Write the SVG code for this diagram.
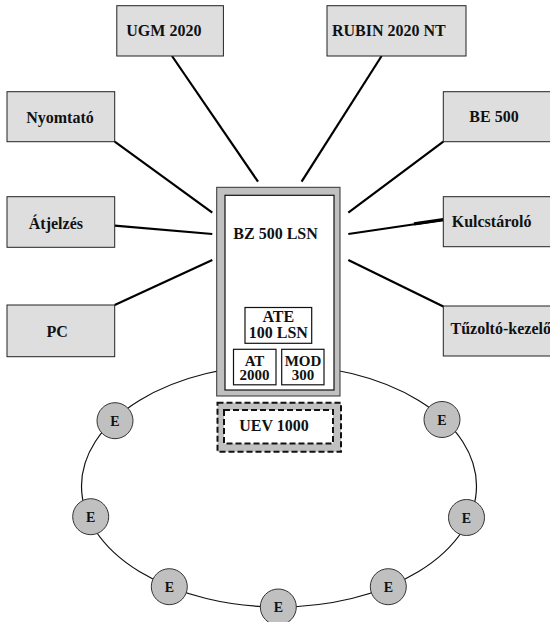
<svg xmlns="http://www.w3.org/2000/svg" width="550" height="622" viewBox="0 0 550 622">
<style>
.box{fill:#dedede;stroke:#222;stroke-width:1}
.t{font-family:"Liberation Serif","Times New Roman",serif;font-weight:bold;font-size:16px;fill:#111}
.ts{font-size:15px}
.te{font-family:"Liberation Serif","Times New Roman",serif;font-weight:bold;font-size:14px;fill:#111;text-anchor:middle}
.c{text-anchor:middle}
.con line{stroke:#000;stroke-width:2.2;stroke-linecap:butt}
.ecirc{fill:#c0c0c0;stroke:#333;stroke-width:1}
.sub{fill:#fff;stroke:#111;stroke-width:1.2}
</style>
<rect width="550" height="622" fill="#fff"/>

<g id="connectors" class="con">
  <line x1="172" y1="56" x2="258" y2="181.7"/>
  <line x1="381.6" y1="56" x2="301.6" y2="181.7"/>
  <line x1="114.7" y1="141.7" x2="212.3" y2="212.7"/>
  <line x1="443.3" y1="141.7" x2="348.3" y2="212.7"/>
  <line x1="114.7" y1="225.7" x2="212.3" y2="234"/>
  <line x1="443.3" y1="220" x2="348.3" y2="234"/>
  <line x1="414" y1="223.9" x2="443.3" y2="219.6" style="stroke-width:3.2"/>
  <line x1="114.7" y1="305" x2="212.3" y2="260"/>
  <line x1="443.3" y1="306.5" x2="348.3" y2="260"/>
</g>

<g id="ring">
  <ellipse cx="279" cy="486" rx="197.5" ry="121" fill="none" stroke="#111" stroke-width="1.2"/>
</g>

<g id="ugm2020">
  <rect class="box" x="116.8" y="5.7" width="106.6" height="50.3"/>
  <text class="t" x="126.3" y="36">UGM 2020</text>
</g>
<g id="rubin2020nt">
  <rect class="box" x="327" y="5.7" width="139" height="50.3"/>
  <text class="t" x="332" y="36">RUBIN 2020 NT</text>
</g>
<g id="nyomtato">
  <rect class="box" x="7" y="91.7" width="107.7" height="50"/>
  <text class="t c" x="60" y="123">Nyomtató</text>
</g>
<g id="atjelzes">
  <rect class="box" x="7" y="196.7" width="107.7" height="50.6"/>
  <text class="t" x="28.8" y="228.5">Átjelzés</text>
</g>
<g id="pc">
  <rect class="box" x="7" y="305" width="107.7" height="51.7"/>
  <text class="t" x="46.6" y="336.5">PC</text>
</g>
<g id="be500">
  <rect class="box" x="443.3" y="91.7" width="108" height="50"/>
  <text class="t" x="469.3" y="122">BE 500</text>
</g>
<g id="kulcstarolo">
  <rect class="box" x="443.3" y="196.7" width="108" height="50"/>
  <text class="t" x="451.7" y="227">Kulcstároló</text>
</g>
<g id="tuzolto-kezelo">
  <rect class="box" x="443.3" y="306" width="108" height="50"/>
  <text class="t" x="450.5" y="334">Tűzoltó-kezelő</text>
</g>

<g id="bz500lsn">
  <rect x="216.7" y="187.3" width="123.3" height="208.7" fill="#c0c0c0" stroke="#333" stroke-width="1"/>
  <rect x="225" y="195.3" width="109" height="194.7" fill="#fff" stroke="#111" stroke-width="1.2"/>
  <text class="t" x="233.3" y="239">BZ 500 LSN</text>
</g>
<g id="ate100lsn">
  <rect class="sub" x="245" y="307.5" width="66.7" height="35.8"/>
  <text class="t c" x="278.3" y="321.7">ATE<tspan x="278.3" dy="16.6">100 LSN</tspan></text>
</g>
<g id="at2000">
  <rect class="sub" x="233.5" y="349.3" width="42.5" height="35.5"/>
  <text class="t ts c" x="254.5" y="366">AT<tspan x="254.5" dy="14">2000</tspan></text>
</g>
<g id="mod300">
  <rect class="sub" x="281.7" y="349.3" width="42.3" height="35.5"/>
  <text class="t ts c" x="303" y="366">MOD<tspan x="303" dy="14">300</tspan></text>
</g>

<g id="uev1000">
  <rect x="217.5" y="402.7" width="123.5" height="49" fill="#c0c0c0" stroke="#111" stroke-width="2" stroke-dasharray="6 3"/>
  <rect x="224" y="410" width="109" height="33.5" fill="#fff" stroke="#111" stroke-width="2" stroke-dasharray="6 3"/>
  <text class="t c" x="274" y="430.5">UEV 1000</text>
</g>

<g id="e1"><circle class="ecirc" cx="115" cy="420.7" r="18"/><text class="te" x="115" y="425.7">E</text></g>
<g id="e2"><circle class="ecirc" cx="442" cy="419.5" r="18"/><text class="te" x="442" y="424.5">E</text></g>
<g id="e3"><circle class="ecirc" cx="90.7" cy="516.7" r="18"/><text class="te" x="90.7" y="521.7">E</text></g>
<g id="e4"><circle class="ecirc" cx="466.5" cy="517.5" r="18"/><text class="te" x="466.5" y="522.5">E</text></g>
<g id="e5"><circle class="ecirc" cx="169.3" cy="586.7" r="18"/><text class="te" x="169.3" y="591.7">E</text></g>
<g id="e6"><circle class="ecirc" cx="388.3" cy="586.7" r="18"/><text class="te" x="388.3" y="591.7">E</text></g>
<g id="e7"><circle class="ecirc" cx="278.3" cy="607" r="18"/><text class="te" x="278.3" y="612">E</text></g>
</svg>
